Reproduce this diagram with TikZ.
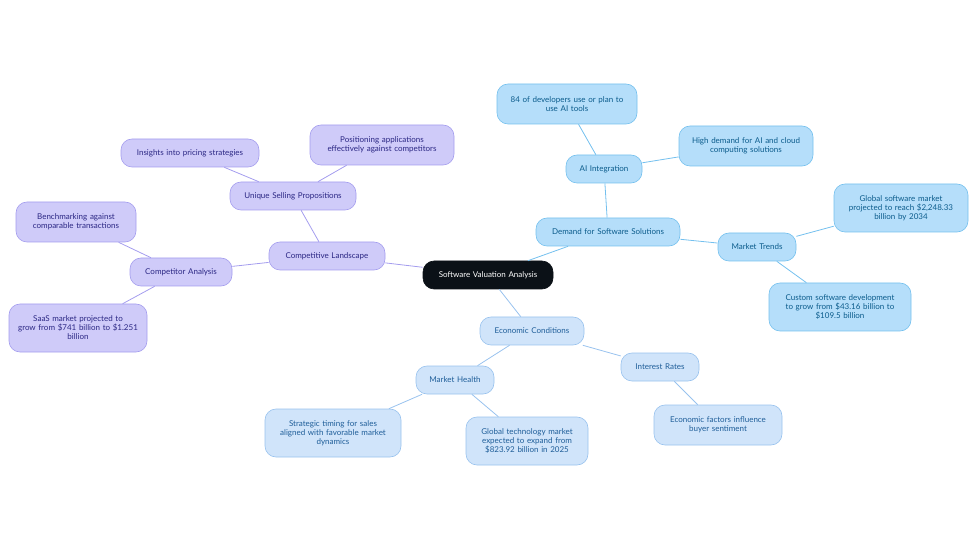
\documentclass[tikz,border=0pt]{standalone}
\usepackage{fontspec}
\setmainfont{Lato}
\begin{document}
\begin{tikzpicture}[x=1pt,y=-1pt,
base/.style={rounded corners=11pt,draw,line width=0.6pt,align=center,font=\fontsize{8}{9}\selectfont,inner sep=3pt,minimum height=28pt},
pur/.style={base,fill=pfill,draw=pdraw,text=ptext},
blu/.style={base,fill=bfill,draw=bdraw,text=btext},
lbl/.style={base,fill=lfill,draw=ldraw,text=ltext},
pl/.style={draw=pdraw,line width=0.8pt},
bl/.style={draw=bdraw,line width=0.8pt},
ll/.style={draw=ldraw,line width=0.8pt}]
\definecolor{pfill}{HTML}{CFCBF9}\definecolor{pdraw}{HTML}{A49DEE}\definecolor{ptext}{HTML}{2B2784}
\definecolor{bfill}{HTML}{B5DEFA}\definecolor{bdraw}{HTML}{74C0EE}\definecolor{btext}{HTML}{0B5C8C}
\definecolor{lfill}{HTML}{D0E4FA}\definecolor{ldraw}{HTML}{98C2EE}\definecolor{ltext}{HTML}{1F5E99}
\useasboundingbox (0,0) rectangle (980,553);
\node[base,fill={rgb,255:red,11;green,17;blue,23},draw={rgb,255:red,11;green,17;blue,23},text=white,text width=124pt] (c) at (488,275) {Software Valuation Analysis};
% purple
\node[pur,text width=110pt] (cl) at (327,256) {Competitive Landscape};
\node[pur,text width=120pt] (usp) at (293,196) {Unique Selling Propositions};
\node[pur,text width=132pt] (ins) at (190,153) {Insights into pricing strategies};
\node[pur,text width=138pt,minimum height=40pt] (pos) at (382,145) {Positioning applications\\effectively against competitors};
\node[pur,text width=96pt] (ca) at (181,272) {Competitor Analysis};
\node[pur,text width=114pt,minimum height=40pt] (ben) at (76,222) {Benchmarking against\\comparable transactions};
\node[pur,text width=132pt,minimum height=48pt] (saas) at (78,328) {SaaS market projected to\\grow from \$741 billion to \$1.251\\billion};
% blue
\node[blu,text width=138pt] (dem) at (608,232) {Demand for Software Solutions};
\node[blu,text width=70pt] (ai) at (604,169) {AI Integration};
\node[blu,text width=134pt,minimum height=40pt] (dev) at (567,104) {84 of developers use or plan to\\use AI tools};
\node[blu,text width=128pt,minimum height=40pt] (hd) at (746,146) {High demand for AI and cloud\\computing solutions};
\node[blu,text width=72pt] (mt) at (757,247) {Market Trends};
\node[blu,text width=128pt,minimum height=48pt] (gsm) at (901,208) {Global software market\\projected to reach \$2,248.33\\billion by 2034};
\node[blu,text width=136pt,minimum height=48pt] (csd) at (840,307) {Custom software development\\to grow from \$43.16 billion to\\\$109.5 billion};
% light blue
\node[lbl,text width=98pt] (ec) at (532,331) {Economic Conditions};
\node[lbl,text width=72pt] (mh) at (455,380) {Market Health};
\node[lbl,text width=130pt,minimum height=48pt] (st) at (333,433) {Strategic timing for sales\\aligned with favorable market\\dynamics};
\node[lbl,text width=116pt,minimum height=48pt] (gtm) at (527,441) {Global technology market\\expected to expand from\\\$823.92 billion in 2025};
\node[lbl,text width=72pt] (ir) at (660,367) {Interest Rates};
\node[lbl,text width=122pt,minimum height=40pt] (ef) at (718,425) {Economic factors influence\\buyer sentiment};
\begin{scope}[on background layer/.style={}]
\end{scope}
\begin{pgfonlayer}{main}\end{pgfonlayer}
\draw[pl] (c) -- (cl); \draw[pl] (cl) -- (usp); \draw[pl] (usp) -- (ins); \draw[pl] (usp) -- (pos);
\draw[pl] (cl) -- (ca); \draw[pl] (ca) -- (ben); \draw[pl] (ca) -- (saas);
\draw[bl] (c) -- (dem); \draw[bl] (dem) -- (ai); \draw[bl] (ai) -- (dev); \draw[bl] (ai) -- (hd);
\draw[bl] (dem) -- (mt); \draw[bl] (mt) -- (gsm); \draw[bl] (mt) -- (csd);
\draw[ll] (c) -- (ec); \draw[ll] (ec) -- (mh); \draw[ll] (mh) -- (st); \draw[ll] (mh) -- (gtm);
\draw[ll] (ec) -- (ir); \draw[ll] (ir) -- (ef);
\end{tikzpicture}
\end{document}
